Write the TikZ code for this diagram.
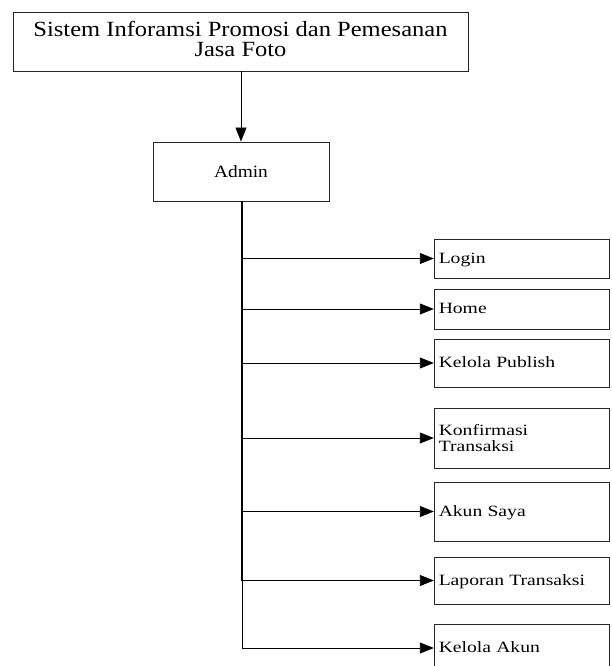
\documentclass[tikz,border=0pt]{standalone}
\usepackage{fontspec}
\setmainfont{Liberation Serif}
\newfontfamily\topfont[FakeStretch=1.13]{Liberation Serif}
\newfontfamily\adminfont[FakeStretch=1.12]{Liberation Serif}
\newfontfamily\boxfont[FakeStretch=1.25]{Liberation Serif}
\usetikzlibrary{arrows.meta}
\begin{document}
\begin{tikzpicture}[x=1pt,y=-1pt,
  box/.style={draw=black!85, line width=0.9pt, inner sep=0pt},
  item/.style={box, minimum width=174.5pt, text width=166pt, inner xsep=4.5pt, align=left,
    font=\boxfont\fontsize{15.7}{15.7}\selectfont},
  one/.style={text height=10.5pt, text depth=1.5pt},
  link/.style={line width=0.9pt, -{Triangle[length=14pt,width=11pt]}},
  trunk/.style={line width=2pt}]
\useasboundingbox (0,0) rectangle (612,666);
\clip (0,0) rectangle (612,666);

\node[box, minimum width=455pt, minimum height=59pt, align=center,
  font=\topfont\fontsize{21.7}{20}\selectfont] (top) at (240.5,41.5)
  {Sistem Inforamsi Promosi dan Pemesanan\\Jasa Foto\strut};
\node[box, minimum width=176pt, minimum height=59pt,
  font=\adminfont\fontsize{17.3}{17.3}\selectfont] (admin) at (241,171.5) {Admin};

\node[item, one, minimum height=39pt] (n1) at (521.75,258.5) {Login};
\node[item, one, minimum height=40pt] (n2) at (521.75,309) {Home};
\node[item, one, minimum height=48pt] (n3) at (521.75,363) {Kelola Publish};
\node[item, minimum height=60pt] (n4) at (521.75,438) {Konfirmasi\\Transaksi};
\node[item, one, minimum height=59pt] (n5) at (521.75,511.5) {Akun Saya};
\node[item, one, minimum height=47pt] (n6) at (521.75,580.5) {Laporan Transaksi};
\node[item, one, minimum height=48pt] (n7) at (521.75,648) {Kelola Akun};

\coordinate (b1) at (242,258.5);
\coordinate (b2) at (242,309);
\coordinate (b3) at (242,363);
\coordinate (b4) at (242,438);
\coordinate (b5) at (242,511.5);
\coordinate (b6) at (242,580.5);
\coordinate (b7) at (242,648);

\draw[link] (top.south -| admin.north) -- (admin.north);
\draw[trunk] (admin.south -| b1) -- (b6);
\draw[line width=0.9pt] (b6) -- (b7);
\foreach \i in {1,...,7} {
  \draw[link] (b\i) -- (n\i.west);
}
\end{tikzpicture}
\end{document}
